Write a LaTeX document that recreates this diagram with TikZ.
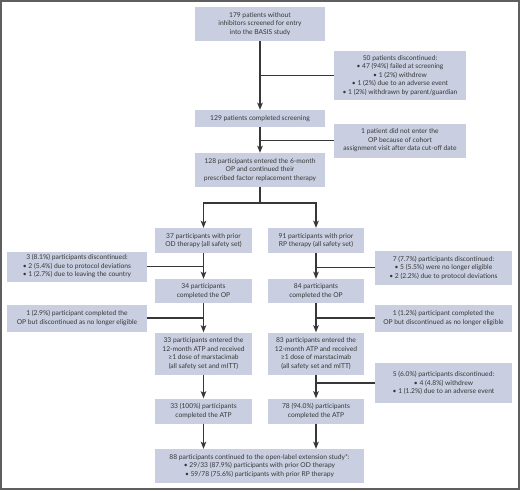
\documentclass[tikz,border=0pt]{standalone}
\usepackage{fontspec}
\setmainfont{Lato}
\usetikzlibrary{arrows.meta}

\definecolor{boxfill}{RGB}{201,207,224}
\definecolor{inkgray}{RGB}{55,55,55}
\definecolor{framegray}{RGB}{95,95,95}

\begin{document}
\begin{tikzpicture}[x=1pt, y=-1pt,
	every node/.style={fill=boxfill, text=inkgray, align=center, inner sep=0pt, font=\fontsize{6.7}{8.5}\selectfont},
	box/.style 2 args={minimum width=#1pt, minimum height=#2pt},
	link/.style={draw=inkgray, line width=1.4pt},
	>={Stealth[length=7pt,width=5.5pt,inset=1.5pt]}]
	
	\useasboundingbox (0,0) rectangle (520,491);
	\draw [framegray, line width=2pt] (1,1) rectangle (519,489);
	
	%---------------------------------------------
	
	\node [box={130}{34}] (screen) at (260,24) {179 patients without\\inhibitors screened for entry\\into the BASIS study};
	\node [box={132}{49}] (fail) at (400,75.5) {50 patients discontinued:\\• 47 (94\%) failed at screening\\• 1 (2\%) withdrew\\• 1 (2\%) due to an adverse event\\• 1 (2\%) withdrawn by parent/guardian};
	\node [box={130}{17}] (done) at (260,118.5) {129 patients completed screening};
	\node [box={132}{34}] (skip) at (400,140.5) {1 patient did not enter the\\OP because of cohort\\assignment visit after data cut-off date};
	\node [box={130}{34}] (entered) at (260,170) {128 participants entered the 6-month\\OP and continued their\\prescribed factor replacement therapy};
	
	\coordinate (split) at (260,203);
	
	%---------------------------------------------
	
	\node [box={97}{25}] (od) at (203.5,240.5) {37 participants with prior\\OD therapy (all safety set)};
	\node [box={140}{30}] (oddisc) at (77,266.5) {3 (8.1\%) participants discontinued:\\• 2 (5.4\%) due to protocol deviations\\• 1 (2.7\%) due to leaving the country};
	\node [box={97}{24}] (odop) at (203.5,291) {34 participants\\completed the OP};
	\node [box={140}{27}] (odinel) at (77,318) {1 (2.9\%) participant completed the\\OP but discontinued as no longer eligible};
	\node [box={97}{42}] (odatp) at (203.5,353.5) {33 participants entered the\\12-month ATP and received\\≥1 dose of marstacimab\\(all safety set and mITT)};
	\node [box={97}{25}] (odend) at (203.5,411) {33 (100\%) participants\\completed the ATP};
	
	%---------------------------------------------
	
	\node [box={96}{25}] (rp) at (316,240.5) {91 participants with prior\\RP therapy (all safety set)};
	\node [box={137}{34}] (rpdisc) at (443.5,267.5) {7 (7.7\%) participants discontinued:\\• 5 (5.5\%) were no longer eligible\\• 2 (2.2\%) due to protocol deviations};
	\node [box={96}{24}] (rpop) at (316,291) {84 participants\\completed the OP};
	\node [box={137}{27}] (rpinel) at (443.5,318) {1 (1.2\%) participant completed the\\OP but discontinued as no longer eligible};
	\node [box={96}{42}] (rpatp) at (316,353.5) {83 participants entered the\\12-month ATP and received\\≥1 dose of marstacimab\\(all safety set and mITT)};
	\node [box={137}{40}] (rpwd) at (443.5,383) {5 (6.0\%) participants discontinued:\\• 4 (4.8\%) withdrew\\• 1 (1.2\%) due to an adverse event};
	\node [box={96}{25}] (rpend) at (316,411) {78 (94.0\%) participants\\completed the ATP};
	
	%---------------------------------------------
	
	\node [box={209}{34}] (ole) at (259.5,466) {88 participants continued to the open-label extension study*:\\• 29/33 (87.9\%) participants with prior OD therapy\\• 59/78 (75.6\%) participants with prior RP therapy};
	
	%---------------------------------------------
	
	\foreach \a/\b in {screen/done, done/entered, od/odop, odop/odatp, odatp/odend, rp/rpop, rpop/rpatp, rpatp/rpend} {
		\draw [link, ->] (\a) -- (\b);
	}
	
	\draw [link] (entered) -- (split);
	\draw [link, ->] (split) -| (od);
	\draw [link, ->] (split) -| (rp);
	
	\draw [link, ->] (odend.south) -- (odend.south |- ole.north);
	\draw [link, ->] (rpend.south) -- (rpend.south |- ole.north);
	
	%---------------------------------------------
	
	\foreach \s/\m in {fail/screen, skip/done, oddisc/od, odinel/odop, rpdisc/rp, rpinel/rpop, rpwd/rpatp} {
		\draw [link] (\s) -- (\s -| \m);
	}
	
\end{tikzpicture}
\end{document}
